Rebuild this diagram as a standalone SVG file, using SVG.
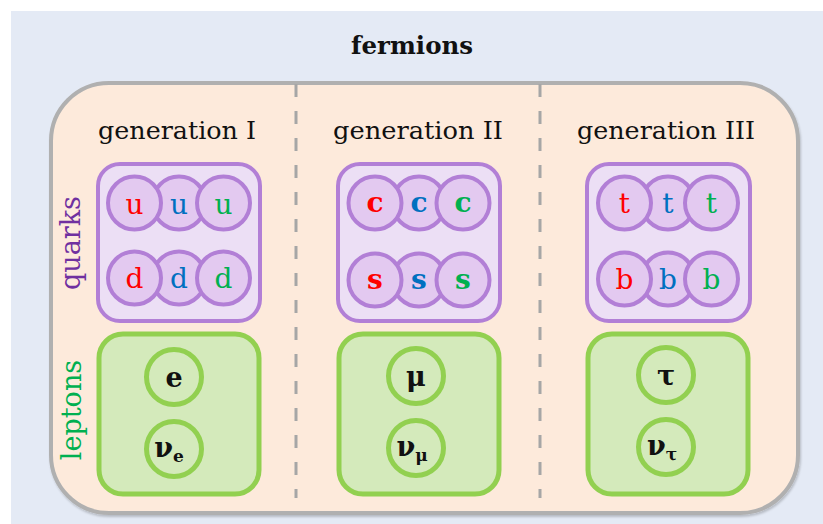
<svg xmlns="http://www.w3.org/2000/svg" width="823" height="524" viewBox="0 0 823 524">
<defs>
<style>
.t{font-family:"DejaVu Serif","Liberation Serif",serif;}
.q{fill:#e3c9f0;stroke:#b27fd6;stroke-width:4}
.qb{fill:#ecdff5;stroke:#b27fd6;stroke-width:4}
.lb{fill:#d4eabb;stroke:#92d050;stroke-width:5}
.lc{fill:#d4eabb;stroke:#92d050;stroke-width:5}
.ql{font-family:"DejaVu Serif","Liberation Serif",serif;font-size:28px;text-anchor:middle}
.ll{font-family:"DejaVu Serif","Liberation Serif",serif;font-size:27px;font-weight:bold;text-anchor:middle;fill:#111}
.r{fill:#ff0000}.b{fill:#0070c0}.g{fill:#00b050}
.gen{font-family:"DejaVu Serif","Liberation Serif",serif;font-size:25px;text-anchor:middle;fill:#111}
.dash{stroke:#a6a6a6;stroke-width:3;stroke-dasharray:13 14;fill:none}
</style>
<filter id="sh" x="-5%" y="-5%" width="110%" height="110%">
<feDropShadow dx="1" dy="2" stdDeviation="1.2" flood-color="#000" flood-opacity="0.2"/>
</filter>
</defs>
<rect x="11" y="11" width="812" height="513" fill="#e4eaf5"/>
<text class="t" x="412" y="54" font-size="25" font-weight="bold" text-anchor="middle" fill="#111" textLength="122" lengthAdjust="spacingAndGlyphs">fermions</text>
<g id="frame">
<rect x="51" y="83" width="747" height="430" rx="58" ry="58" fill="#fdeadb" stroke="#b0b0b0" stroke-width="4" filter="url(#sh)"/>
</g>
<g id="connectors">
<line class="dash" x1="296" y1="84" x2="296" y2="498"/>
<line class="dash" x1="540" y1="84" x2="540" y2="498"/>
</g>
<text class="gen" x="177" y="139" textLength="158" lengthAdjust="spacingAndGlyphs">generation I</text>
<text class="gen" x="418" y="139" textLength="170" lengthAdjust="spacingAndGlyphs">generation II</text>
<text class="gen" x="666" y="139" textLength="178" lengthAdjust="spacingAndGlyphs">generation III</text>
<text class="t" transform="translate(80,243) rotate(-90)" font-size="27" text-anchor="middle" fill="#7030a0">quarks</text>
<text class="t" transform="translate(81,410) rotate(-90)" font-size="27" text-anchor="middle" fill="#00b050">leptons</text>

<g id="quarks-I">
<rect class="qb" x="98" y="164" width="162" height="157" rx="22"/>
<circle class="q" cx="179" cy="203" r="26.5"/><circle class="q" cx="134.5" cy="203" r="26.5"/><circle class="q" cx="223.5" cy="203" r="26.5"/>
<circle class="q" cx="179" cy="278" r="26.5"/><circle class="q" cx="134.5" cy="278" r="26.5"/><circle class="q" cx="223.5" cy="278" r="26.5"/>
<text class="ql r" x="134.5" y="214">u</text><text class="ql b" x="179" y="214">u</text><text class="ql g" x="223.5" y="214">u</text>
<text class="ql r" x="134.5" y="288">d</text><text class="ql b" x="179" y="288">d</text><text class="ql g" x="223.5" y="288">d</text>
</g>
<g id="quarks-II">
<rect class="qb" x="338" y="164" width="162" height="157" rx="22"/>
<circle class="q" cx="419" cy="203" r="26.5"/><circle class="q" cx="375" cy="203" r="26.5"/><circle class="q" cx="463" cy="203" r="26.5"/>
<circle class="q" cx="419" cy="280" r="26.5"/><circle class="q" cx="375" cy="280" r="26.5"/><circle class="q" cx="463" cy="280" r="26.5"/>
<text class="ql r" x="375" y="212" font-weight="bold">c</text><text class="ql b" x="419" y="212" font-weight="bold">c</text><text class="ql g" x="463" y="212" font-weight="bold">c</text>
<text class="ql r" x="375" y="289" font-weight="bold">s</text><text class="ql b" x="419" y="289" font-weight="bold">s</text><text class="ql g" x="463" y="289" font-weight="bold">s</text>
</g>
<g id="quarks-III">
<rect class="qb" x="587" y="164" width="163" height="157" rx="22"/>
<circle class="q" cx="668" cy="203" r="26.5"/><circle class="q" cx="624.5" cy="203" r="26.5"/><circle class="q" cx="711.5" cy="203" r="26.5"/>
<circle class="q" cx="668" cy="279" r="26.5"/><circle class="q" cx="624.5" cy="279" r="26.5"/><circle class="q" cx="711.5" cy="279" r="26.5"/>
<text class="ql r" x="624.5" y="213">t</text><text class="ql b" x="668" y="213">t</text><text class="ql g" x="711.5" y="213">t</text>
<text class="ql r" x="624.5" y="289">b</text><text class="ql b" x="668" y="289">b</text><text class="ql g" x="711.5" y="289">b</text>
</g>

<g id="leptons-I">
<rect class="lb" x="99" y="334" width="160" height="160" rx="24"/>
<circle class="lc" cx="174" cy="377" r="27.5"/><circle class="lc" cx="174" cy="449" r="27.5"/>
<text class="ll" x="174" y="387">e</text>
<text class="ll" x="169" y="457">ν<tspan font-size="17" dy="5">e</tspan></text>
</g>
<g id="leptons-II">
<rect class="lb" x="339" y="334" width="160" height="160" rx="24"/>
<circle class="lc" cx="416" cy="376" r="27.5"/><circle class="lc" cx="416" cy="448" r="27.5"/>
<text class="ll" x="416" y="386">μ</text>
<text class="ll" x="412" y="456">ν<tspan font-size="17" dy="5">μ</tspan></text>
</g>
<g id="leptons-III">
<rect class="lb" x="588" y="334" width="160" height="160" rx="24"/>
<circle class="lc" cx="666" cy="375" r="27.5"/><circle class="lc" cx="666" cy="447" r="27.5"/>
<text class="ll" x="666" y="385">τ</text>
<text class="ll" x="662" y="455">ν<tspan font-size="17" dy="5">τ</tspan></text>
</g>
</svg>
